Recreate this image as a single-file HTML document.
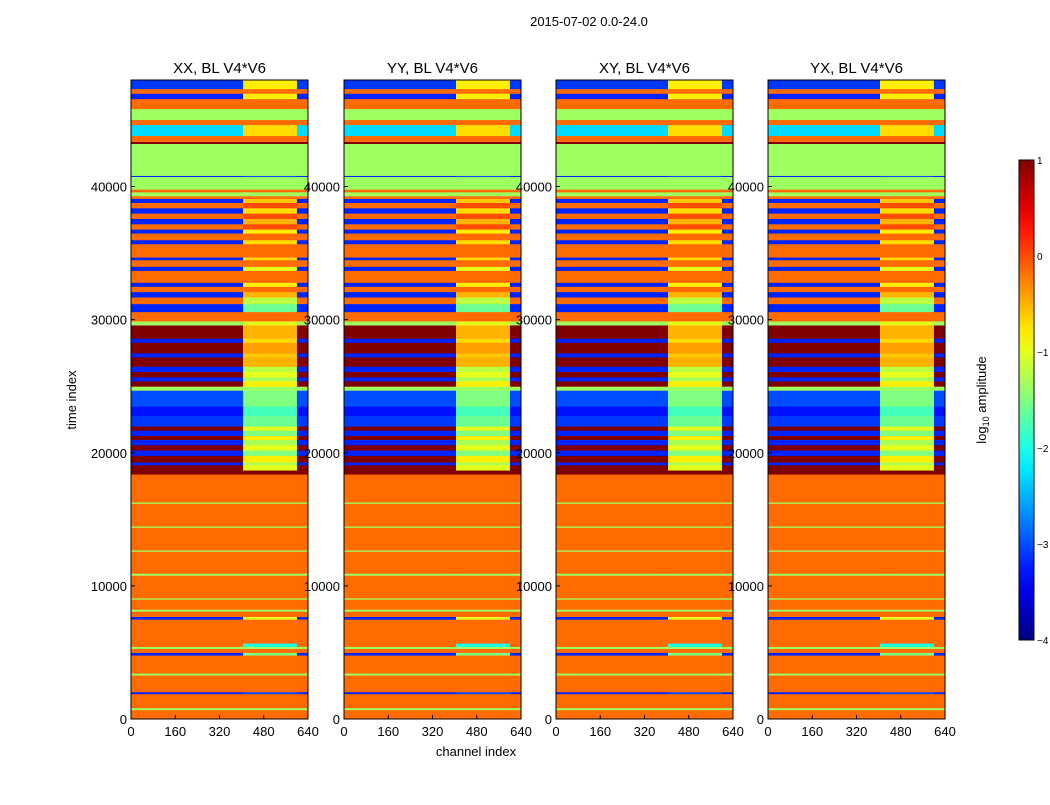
<!DOCTYPE html>
<html><head><meta charset="utf-8"><style>
body{margin:0;background:#fff;}
svg text{font-family:"Liberation Sans","DejaVu Sans",sans-serif;fill:#000;}
</style></head><body>
<svg id="chart" width="1050" height="800" xmlns="http://www.w3.org/2000/svg">
<rect width="1050" height="800" fill="#fff"/>
<text x="589" y="26" font-size="13" text-anchor="middle">2015-07-02 0.0-24.0</text>
<text x="476" y="756" font-size="13" text-anchor="middle">channel index</text>
<text x="76" y="400" font-size="13" text-anchor="middle" transform="rotate(-90 76 400)">time index</text>
<g id="panels"></g>
<g id="cbar"></g>
</svg>
<script>
const panelTitles = ["XX, BL V4*V6","YY, BL V4*V6","XY, BL V4*V6","YX, BL V4*V6"];
const xTicks = [0,160,320,480,640];
const yTicks = [0,10000,20000,30000,40000];
const cbarTicks = [1,0,-1,-2,-3,-4];
const bandStart = [0,700,850,1900,2050,3300,3450,4800,5000,5300,5450,5700,7500,7700,8100,8250,9000,9100,10800,10950,12600,12700,14400,14500,16200,16300,18400,18700,19100,19300,19800,20200,20600,21000,21300,21700,22000,22800,23500,24700,25000,25400,25700,26100,26500,27200,27500,28300,28600,29600,29900,30600,31200,31700,32100,32500,32800,33700,34000,34500,34700,35700,36000,36500,36800,37200,37600,38000,38400,38800,39100,39300,39600,39800,40750,40830,43230,43380,43830,44650,45030,45850,46600,47000,47350];
const bandValue = [-0.15,-1.35,-0.15,-3.2,-0.15,-1.35,-0.15,-3.2,-0.15,-1.35,-0.15,-0.15,-3.2,-0.15,-1.35,-0.15,-1.35,-0.15,-1.35,-0.15,-1.35,-0.15,-1.35,-0.15,-1.35,-0.15,1,1,-3.2,1,-3.2,1,-3.2,1,-3.2,1,-3.1,-3.3,-3,-1.35,1,-3.2,1,-3.2,1,-3.2,1,-3.2,1,-1.35,-0.15,-3.2,-0.15,-3.2,-0.15,-3.2,-0.15,-3.2,-0.15,-3.2,-0.15,-3.2,-0.15,-3.2,-0.15,-3.2,-0.15,-3.2,-0.15,-3.2,-0.15,-1.35,-0.15,-1.35,-3.2,-1.35,1,-0.15,-2.3,-0.15,-1.35,-0.15,-3.2,-0.15,-3.1];
const stripValue = [-0.15,-1.35,-0.15,-3,-0.15,-1.35,-0.15,-1.5,-0.15,-1.35,-2,-0.15,-1,-0.15,-1.35,-0.15,-1.35,-0.15,-1.35,-0.15,-1.35,-0.15,-1.35,-0.15,-1.35,-0.15,1,-1,-1.3,-0.8,-1.5,-1,-1.3,-0.8,-1.5,-1,-1.6,-1.8,-1.5,-1.35,-0.8,-1.3,-1,-1.2,-0.5,-0.6,-0.4,-0.7,-0.5,-1,-0.15,-1.6,-1.2,-0.5,-0.15,-0.8,-0.15,-1,-0.15,-0.7,-0.15,-0.7,-0.15,-0.8,0,-0.5,0,-0.7,0,-0.6,-0.15,-1.35,-0.15,-1.35,-3,-1.35,1,-0.15,-0.7,-0.15,-1.35,-0.15,-0.8,-0.15,-0.8];
const stripCh = [405,600];
const tMax = 48000, chMax = 640;
const panelX = [131,344,556,768], panelW = 177, yTop = 80, yBot = 719;
const NS = "http://www.w3.org/2000/svg";
function jet(v){const t=Math.max(0,Math.min(1,(v+4)/5));
 const c=x=>Math.round(255*Math.max(0,Math.min(1,x)));
 return `rgb(${c(1.5-Math.abs(4*t-3))},${c(1.5-Math.abs(4*t-2))},${c(1.5-Math.abs(4*t-1))})`;}
function mk(tag,attrs,parent){const e=document.createElementNS(NS,tag);for(const k in attrs)e.setAttribute(k,attrs[k]);parent.appendChild(e);return e;}
const yS = t => yBot - (t/tMax)*(yBot-yTop);
const panels = document.getElementById('panels');
panelTitles.forEach((title,p)=>{
 const x0=panelX[p]; const xS=c=>x0+c/chMax*panelW;
 const g=mk('g',{},panels);
 
 
 for(let i=0;i<bandStart.length;i++){
  const t0=bandStart[i], t1=i+1<bandStart.length?bandStart[i+1]:tMax;
  const y=yS(t1), h=yS(t0)-yS(t1)+0.5;
  const segs=[[0,stripCh[0],bandValue[i]],[stripCh[0],stripCh[1],stripValue[i]],[stripCh[1],chMax,bandValue[i]]];
  segs.forEach(s=>{
   const r=mk('rect',{x:xS(s[0]),y:y,width:xS(s[1])-xS(s[0])+0.3,height:h,fill:jet(s[2])},g);
   
   
  });
 }
 const fr=mk('rect',{x:x0,y:yTop,width:panelW,height:yBot-yTop,fill:'none',stroke:'#000','stroke-width':1},g);
 
 
 const tt=mk('text',{x:x0+panelW/2,y:73,'font-size':15,'text-anchor':'middle'},g);tt.textContent=title;
 
 
 xTicks.forEach(v=>{const x=xS(v);
  mk('line',{x1:x,x2:x,y1:yBot,y2:yBot-4,stroke:'#000'},g);
  const tx=mk('text',{x:x,y:736,'font-size':13,'text-anchor':'middle'},g);tx.textContent=v;
  
  });
 yTicks.forEach(v=>{const y=yS(v);
  mk('line',{x1:x0,x2:x0+4,y1:y,y2:y,stroke:'#000'},g);
  const ty=mk('text',{x:x0-4,y:y+5,'font-size':13,'text-anchor':'end'},g);ty.textContent=v;
  
  });
});
const cb=document.getElementById('cbar');
const defs=mk('defs',{},cb);const lg=mk('linearGradient',{id:'jetg',x1:0,y1:1,x2:0,y2:0},defs);
for(let i=0;i<=20;i++){mk('stop',{offset:i/20,'stop-color':jet(-4+5*i/20)},lg);}
const cr=mk('rect',{x:1019,y:160,width:15,height:480,fill:'url(#jetg)',stroke:'#000'},cb);


cbarTicks.forEach(v=>{const y=160+(1-v)/5*480;
 const t=mk('text',{x:1037,y:y+4,'font-size':10},cb);t.textContent=v<0?'\u2212'+(-v):v;
 
 });
const cl=mk('text',{x:986,y:400,'font-size':13,'text-anchor':'middle',transform:'rotate(-90 986 400)'},cb);
cl.innerHTML='log<tspan font-size="9" dy="3">10</tspan><tspan dy="-3"> amplitude</tspan>';


</script>
</body></html>
